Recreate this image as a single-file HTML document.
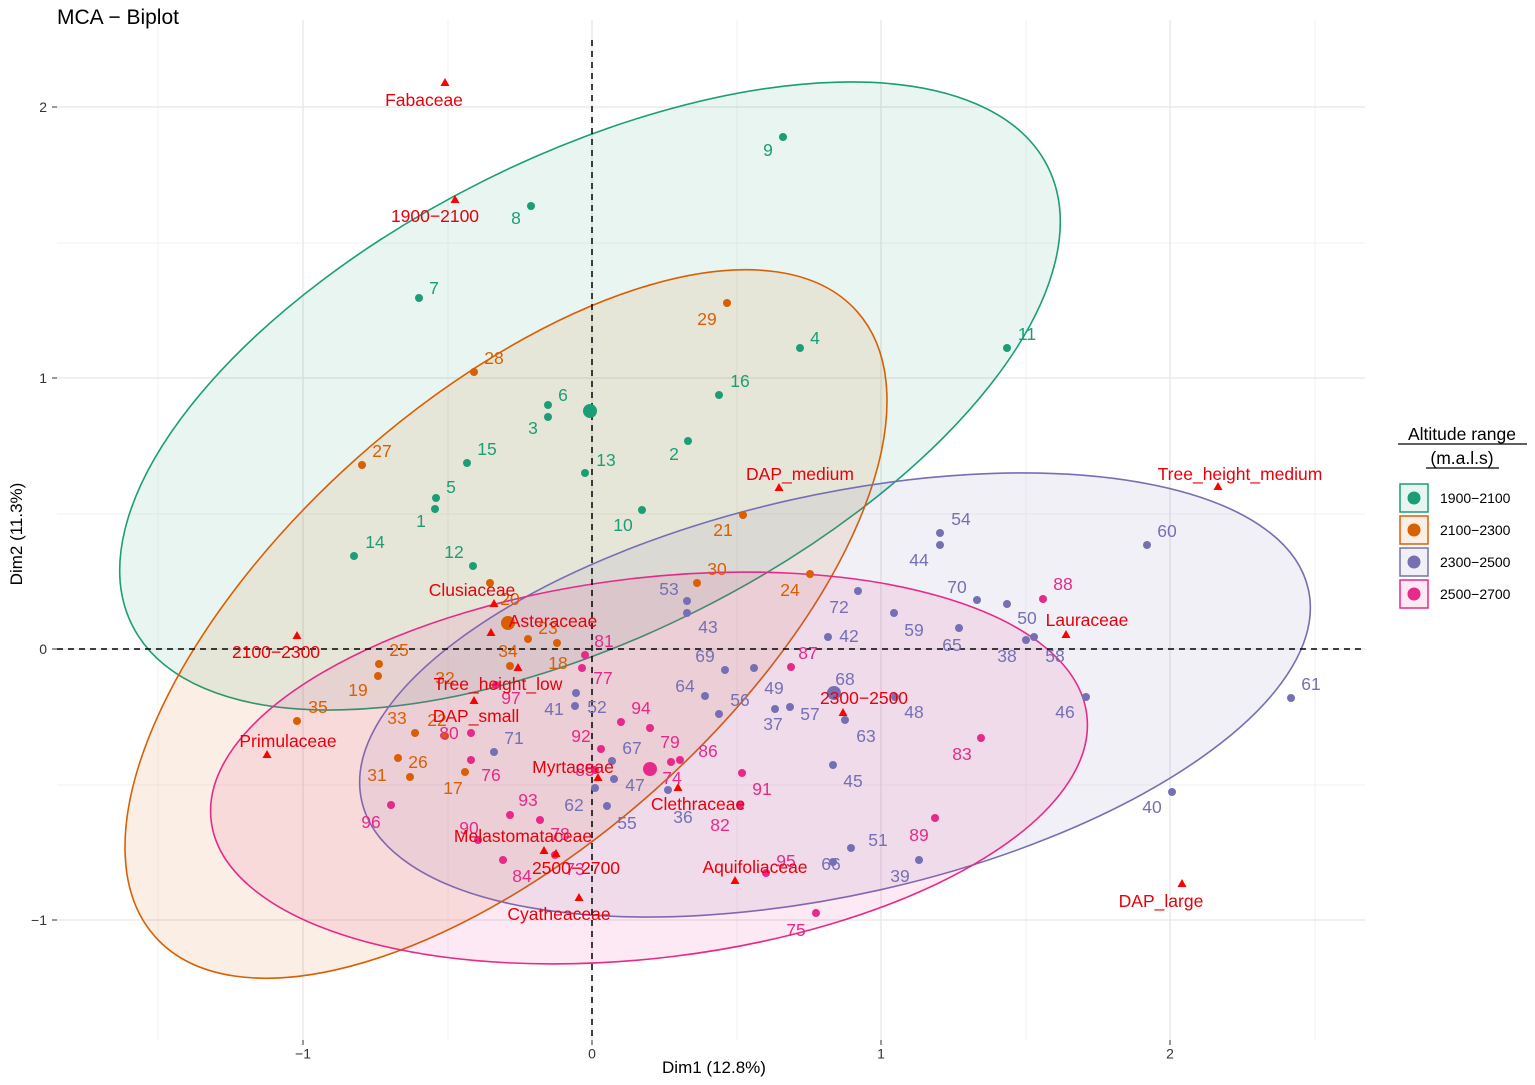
<!DOCTYPE html>
<html><head><meta charset="utf-8"><style>
html,body{margin:0;padding:0;background:#fff}
svg{display:block}
text{font-family:"Liberation Sans",Arial,sans-serif}
.g{fill:#1b9e77}.o{fill:#d95f02}.p{fill:#7570b3}.k{fill:#e7298a}
.l{font-size:17.5px;text-anchor:middle;dominant-baseline:central}
.r{fill:#e8000b}
.t{font-size:14px;fill:#333}
</style></head><body>
<svg width="1535" height="1085" viewBox="0 0 1535 1085" xmlns="http://www.w3.org/2000/svg">
<rect width="1535" height="1085" fill="#fff"/>
<g stroke="#f2f2f2" stroke-width="1">
<line x1="158" y1="20" x2="158" y2="1040"/><line x1="448" y1="20" x2="448" y2="1040"/><line x1="737" y1="20" x2="737" y2="1040"/><line x1="1026" y1="20" x2="1026" y2="1040"/><line x1="1315" y1="20" x2="1315" y2="1040"/>
<line x1="57" y1="785" x2="1365" y2="785"/><line x1="57" y1="514" x2="1365" y2="514"/><line x1="57" y1="243" x2="1365" y2="243"/>
</g>
<g stroke="#e6e6e6" stroke-width="1.3">
<line x1="303" y1="20" x2="303" y2="1040"/><line x1="592" y1="20" x2="592" y2="1040"/><line x1="881" y1="20" x2="881" y2="1040"/><line x1="1170" y1="20" x2="1170" y2="1040"/>
<line x1="57" y1="920" x2="1365" y2="920"/><line x1="57" y1="649" x2="1365" y2="649"/><line x1="57" y1="378" x2="1365" y2="378"/><line x1="57" y1="107" x2="1365" y2="107"/>
</g>
<ellipse cx="590" cy="396" rx="512" ry="240" transform="rotate(-26.6 590 396)" fill="#1b9e77" fill-opacity="0.1" stroke="#1b9e77" stroke-width="1.6"/>
<ellipse cx="506" cy="624" rx="470" ry="223" transform="rotate(-41.7 506 624)" fill="#d95f02" fill-opacity="0.1" stroke="#d95f02" stroke-width="1.6"/>
<ellipse cx="835" cy="695" rx="485" ry="200" transform="rotate(-12.6 835 695)" fill="#7570b3" fill-opacity="0.1" stroke="#7570b3" stroke-width="1.6"/>
<ellipse cx="649" cy="768" rx="441" ry="190" transform="rotate(-6.9 649 768)" fill="#e7298a" fill-opacity="0.1" stroke="#e7298a" stroke-width="1.6"/>
<line x1="57" y1="649" x2="1365" y2="649" stroke="#000" stroke-width="1.5" stroke-dasharray="6,5"/>
<line x1="592" y1="40" x2="592" y2="1040" stroke="#000" stroke-width="1.5" stroke-dasharray="6,5"/>
<g class="g">
<circle cx="783" cy="137" r="4"/><circle cx="531" cy="206" r="4"/><circle cx="419" cy="298" r="4"/><circle cx="800" cy="348" r="4"/><circle cx="1007" cy="348" r="4"/><circle cx="719" cy="395" r="4"/><circle cx="548" cy="405" r="4"/><circle cx="548" cy="417" r="4"/><circle cx="688" cy="441" r="4"/><circle cx="585" cy="473" r="4"/><circle cx="467" cy="463" r="4"/><circle cx="436" cy="498" r="4"/><circle cx="435" cy="509" r="4"/><circle cx="642" cy="510" r="4"/><circle cx="354" cy="556" r="4"/><circle cx="473" cy="566" r="4"/><circle cx="590" cy="411" r="7"/>
<text class="l" x="768" y="150">9</text><text class="l" x="516" y="218">8</text><text class="l" x="434" y="288">7</text><text class="l" x="815" y="338">4</text><text class="l" x="1027" y="334">11</text><text class="l" x="740" y="381">16</text><text class="l" x="563" y="395">6</text><text class="l" x="533" y="428">3</text><text class="l" x="674" y="454">2</text><text class="l" x="606" y="460">13</text><text class="l" x="487" y="449">15</text><text class="l" x="451" y="487">5</text><text class="l" x="421" y="521">1</text><text class="l" x="623" y="525">10</text><text class="l" x="375" y="542">14</text><text class="l" x="454" y="552">12</text>
</g>
<g class="o">
<circle cx="727" cy="303" r="4"/><circle cx="474" cy="372" r="4"/><circle cx="362" cy="465" r="4"/><circle cx="743" cy="515" r="4"/><circle cx="697" cy="583" r="4"/><circle cx="810" cy="574" r="4"/><circle cx="490" cy="583" r="4"/><circle cx="528" cy="639" r="4"/><circle cx="557" cy="643" r="4"/><circle cx="510" cy="666" r="4"/><circle cx="379" cy="664" r="4"/><circle cx="378" cy="676" r="4"/><circle cx="297" cy="721" r="4"/><circle cx="415" cy="733" r="4"/><circle cx="445" cy="736" r="4"/><circle cx="398" cy="758" r="4"/><circle cx="410" cy="777" r="4"/><circle cx="465" cy="772" r="4"/><circle cx="508" cy="623" r="7"/>
<text class="l" x="707" y="319">29</text><text class="l" x="494" y="358">28</text><text class="l" x="382" y="451">27</text><text class="l" x="723" y="530">21</text><text class="l" x="717" y="569">30</text><text class="l" x="790" y="590">24</text><text class="l" x="510" y="599">20</text><text class="l" x="548" y="628">23</text><text class="l" x="558" y="663">18</text><text class="l" x="508" y="651">34</text><text class="l" x="445" y="678">32</text><text class="l" x="399" y="650">25</text><text class="l" x="358" y="690">19</text><text class="l" x="318" y="707">35</text><text class="l" x="397" y="718">33</text><text class="l" x="437" y="720">22</text><text class="l" x="418" y="762">26</text><text class="l" x="377" y="775">31</text><text class="l" x="453" y="788">17</text>
</g>
<g class="p">
<circle cx="940" cy="533" r="4"/><circle cx="940" cy="545" r="4"/><circle cx="1147" cy="545" r="4"/><circle cx="977" cy="600" r="4"/><circle cx="1007" cy="604" r="4"/><circle cx="894" cy="613" r="4"/><circle cx="858" cy="591" r="4"/><circle cx="828" cy="637" r="4"/><circle cx="687" cy="601" r="4"/><circle cx="687" cy="613" r="4"/><circle cx="959" cy="628" r="4"/><circle cx="1026" cy="640" r="4"/><circle cx="1034" cy="637" r="4"/><circle cx="725" cy="670" r="4"/><circle cx="705" cy="696" r="4"/><circle cx="719" cy="714" r="4"/><circle cx="754" cy="668" r="4"/><circle cx="775" cy="709" r="4"/><circle cx="790" cy="707" r="4"/><circle cx="895" cy="697" r="4"/><circle cx="845" cy="720" r="4"/><circle cx="833" cy="765" r="4"/><circle cx="1086" cy="697" r="4"/><circle cx="1291" cy="698" r="4"/><circle cx="1172" cy="792" r="4"/><circle cx="851" cy="848" r="4"/><circle cx="833" cy="862" r="4"/><circle cx="919" cy="860" r="4"/><circle cx="575" cy="706" r="4"/><circle cx="576" cy="693" r="4"/><circle cx="494" cy="752" r="4"/><circle cx="612" cy="761" r="4"/><circle cx="614" cy="779" r="4"/><circle cx="595" cy="788" r="4"/><circle cx="607" cy="806" r="4"/><circle cx="668" cy="790" r="4"/><circle cx="834" cy="693" r="7"/>
<text class="l" x="961" y="519">54</text><text class="l" x="919" y="560">44</text><text class="l" x="1167" y="531">60</text><text class="l" x="957" y="587">70</text><text class="l" x="1027" y="618">50</text><text class="l" x="914" y="630">59</text><text class="l" x="839" y="607">72</text><text class="l" x="849" y="636">42</text><text class="l" x="669" y="589">53</text><text class="l" x="708" y="627">43</text><text class="l" x="952" y="645">65</text><text class="l" x="1007" y="656">38</text><text class="l" x="1055" y="656">58</text><text class="l" x="705" y="656">69</text><text class="l" x="685" y="686">64</text><text class="l" x="740" y="700">56</text><text class="l" x="774" y="688">49</text><text class="l" x="773" y="724">37</text><text class="l" x="810" y="714">57</text><text class="l" x="914" y="712">48</text><text class="l" x="866" y="736">63</text><text class="l" x="853" y="781">45</text><text class="l" x="1065" y="712">46</text><text class="l" x="1311" y="684">61</text><text class="l" x="1152" y="807">40</text><text class="l" x="878" y="840">51</text><text class="l" x="831" y="864">66</text><text class="l" x="900" y="876">39</text><text class="l" x="554" y="709">41</text><text class="l" x="597" y="707">52</text><text class="l" x="514" y="738">71</text><text class="l" x="632" y="748">67</text><text class="l" x="635" y="785">47</text><text class="l" x="574" y="805">62</text><text class="l" x="627" y="823">55</text><text class="l" x="683" y="817">36</text><text class="l" x="845" y="679">68</text>
</g>
<g class="k">
<circle cx="1043" cy="599" r="4"/><circle cx="585" cy="655" r="4"/><circle cx="582" cy="668" r="4"/><circle cx="791" cy="667" r="4"/><circle cx="496" cy="685" r="4"/><circle cx="621" cy="722" r="4"/><circle cx="471" cy="733" r="4"/><circle cx="601" cy="749" r="4"/><circle cx="650" cy="728" r="4"/><circle cx="671" cy="762" r="4"/><circle cx="680" cy="760" r="4"/><circle cx="742" cy="773" r="4"/><circle cx="981" cy="738" r="4"/><circle cx="935" cy="818" r="4"/><circle cx="740" cy="805" r="4"/><circle cx="471" cy="760" r="4"/><circle cx="510" cy="815" r="4"/><circle cx="478" cy="840" r="4"/><circle cx="540" cy="820" r="4"/><circle cx="391" cy="805" r="4"/><circle cx="503" cy="860" r="4"/><circle cx="555" cy="855" r="4"/><circle cx="766" cy="873" r="4"/><circle cx="816" cy="913" r="4"/><circle cx="595" cy="770" r="4"/><circle cx="650" cy="769" r="7"/>
<text class="l" x="1063" y="584">88</text><text class="l" x="604" y="641">81</text><text class="l" x="603" y="678">77</text><text class="l" x="808" y="653">87</text><text class="l" x="511" y="698">97</text><text class="l" x="641" y="708">94</text><text class="l" x="449" y="733">80</text><text class="l" x="581" y="736">92</text><text class="l" x="670" y="742">79</text><text class="l" x="708" y="751">86</text><text class="l" x="672" y="778">74</text><text class="l" x="762" y="789">91</text><text class="l" x="962" y="754">83</text><text class="l" x="919" y="835">89</text><text class="l" x="720" y="825">82</text><text class="l" x="491" y="775">76</text><text class="l" x="528" y="800">93</text><text class="l" x="469" y="828">90</text><text class="l" x="560" y="834">78</text><text class="l" x="371" y="822">96</text><text class="l" x="522" y="876">84</text><text class="l" x="575" y="869">73</text><text class="l" x="786" y="861">95</text><text class="l" x="796" y="930">75</text><text class="l" x="585" y="770">85</text>
</g>
<g fill="#ff0000">
<path d="M445,78 l4.5,8 h-9z"/><path d="M455,195 l4.5,8 h-9z"/><path d="M779,483 l4.5,8 h-9z"/><path d="M1218,482 l4.5,8 h-9z"/><path d="M494,599 l4.5,8 h-9z"/><path d="M491,628 l4.5,8 h-9z"/><path d="M1066,630 l4.5,8 h-9z"/><path d="M297,631 l4.5,8 h-9z"/><path d="M518,663 l4.5,8 h-9z"/><path d="M843,708 l4.5,8 h-9z"/><path d="M474,696 l4.5,8 h-9z"/><path d="M267,750 l4.5,8 h-9z"/><path d="M598,773 l4.5,8 h-9z"/><path d="M678,783 l4.5,8 h-9z"/><path d="M544,846 l4.5,8 h-9z"/><path d="M556,849 l4.5,8 h-9z"/><path d="M735,876 l4.5,8 h-9z"/><path d="M1182,879 l4.5,8 h-9z"/><path d="M579,893 l4.5,8 h-9z"/>
</g>
<g class="r">
<text class="l" x="424" y="100">Fabaceae</text><text class="l" x="435" y="216">1900−2100</text><text class="l" x="800" y="474">DAP_medium</text><text class="l" x="1240" y="474">Tree_height_medium</text><text class="l" x="472" y="590">Clusiaceae</text><text class="l" x="553" y="621">Asteraceae</text><text class="l" x="1087" y="620">Lauraceae</text><text class="l" x="276" y="652">2100−2300</text><text class="l" x="498" y="684">Tree_height_low</text><text class="l" x="864" y="698">2300−2500</text><text class="l" x="476" y="716">DAP_small</text><text class="l" x="288" y="741">Primulaceae</text><text class="l" x="573" y="767">Myrtaceae</text><text class="l" x="698" y="804">Clethraceae</text><text class="l" x="523" y="836">Melastomataceae</text><text class="l" x="576" y="868">2500−2700</text><text class="l" x="755" y="867">Aquifoliaceae</text><text class="l" x="1161" y="901">DAP_large</text><text class="l" x="559" y="914">Cyatheaceae</text>
</g>
<g stroke="#333" stroke-width="1">
<line x1="52" y1="107" x2="57" y2="107"/><line x1="52" y1="378" x2="57" y2="378"/><line x1="52" y1="649" x2="57" y2="649"/><line x1="52" y1="920" x2="57" y2="920"/>
<line x1="303" y1="1040" x2="303" y2="1045"/><line x1="592" y1="1040" x2="592" y2="1045"/><line x1="881" y1="1040" x2="881" y2="1045"/><line x1="1170" y1="1040" x2="1170" y2="1045"/>
</g>
<g class="t">
<text x="47" y="112" text-anchor="end">2</text><text x="47" y="383" text-anchor="end">1</text><text x="47" y="654" text-anchor="end">0</text><text x="47" y="925" text-anchor="end">−1</text>
<text x="303" y="1048" text-anchor="middle" dominant-baseline="hanging">−1</text><text x="592" y="1048" text-anchor="middle" dominant-baseline="hanging">0</text><text x="881" y="1048" text-anchor="middle" dominant-baseline="hanging">1</text><text x="1170" y="1048" text-anchor="middle" dominant-baseline="hanging">2</text>
</g>
<text x="57" y="24" font-size="21" fill="#000">MCA − Biplot</text>
<text x="714" y="1073" font-size="17" text-anchor="middle" fill="#000">Dim1 (12.8%)</text>
<text x="0" y="0" font-size="17" text-anchor="middle" fill="#000" transform="translate(22,534) rotate(-90)">Dim2 (11.3%)</text>
<text x="1462" y="440" font-size="17.5" text-anchor="middle" fill="#000">Altitude range</text>
<text x="1462" y="464" font-size="17.5" text-anchor="middle" fill="#000">(m.a.l.s)</text>
<line x1="1398" y1="444" x2="1527" y2="444" stroke="#000" stroke-width="1.2"/>
<line x1="1426" y1="468" x2="1499" y2="468" stroke="#000" stroke-width="1.2"/>
<rect x="1400" y="484" width="28" height="28" fill="#1b9e77" fill-opacity="0.1" stroke="#1b9e77" stroke-width="1.5"/><circle cx="1414" cy="498" r="6.5" fill="#1b9e77"/>
<rect x="1400" y="516" width="28" height="28" fill="#d95f02" fill-opacity="0.1" stroke="#d95f02" stroke-width="1.5"/><circle cx="1414" cy="530" r="6.5" fill="#d95f02"/>
<rect x="1400" y="548" width="28" height="28" fill="#7570b3" fill-opacity="0.1" stroke="#7570b3" stroke-width="1.5"/><circle cx="1414" cy="562" r="6.5" fill="#7570b3"/>
<rect x="1400" y="580" width="28" height="28" fill="#e7298a" fill-opacity="0.1" stroke="#e7298a" stroke-width="1.5"/><circle cx="1414" cy="594" r="6.5" fill="#e7298a"/>
<g font-size="14" fill="#000">
<text x="1440" y="503">1900−2100</text><text x="1440" y="535">2100−2300</text><text x="1440" y="567">2300−2500</text><text x="1440" y="599">2500−2700</text>
</g>
</svg>
</body></html>
